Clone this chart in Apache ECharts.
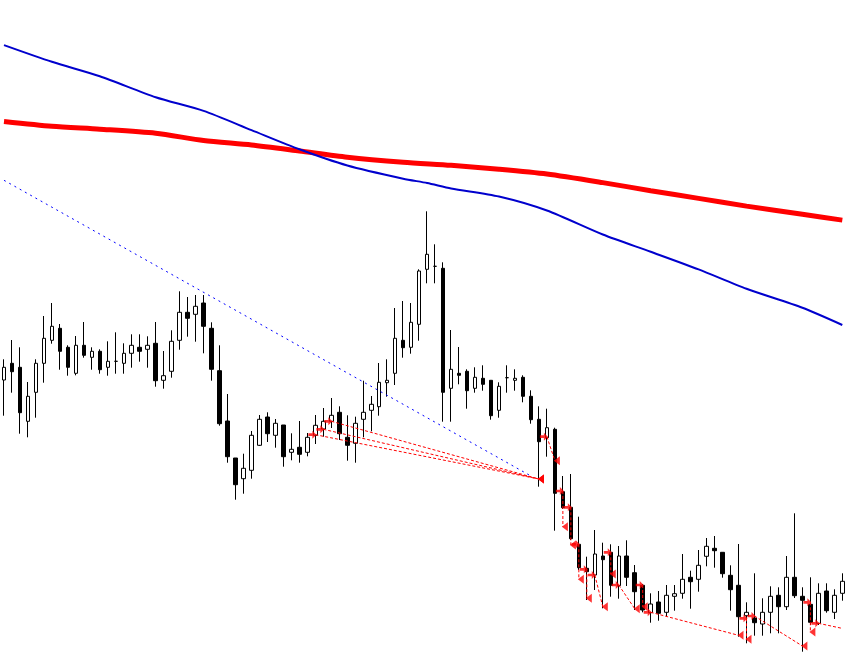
<!DOCTYPE html>
<html>
<head>
<meta charset="utf-8">
<script src="https://cdn.jsdelivr.net/npm/echarts@6/dist/echarts.min.js"></script>
<style>
html,body{margin:0;padding:0;background:#fff;}
#chart{width:847px;height:657px;}
</style>
</head>
<body>
<div id="chart"></div>
<script>
// Candle values (vertical units: height above chart bottom)
const open = [277.0,293.7,289.7,235.7,264.7,293.7,316.7,328.7,309.7,283.7,
311.7,299.7,305.7,289.7,295.7,293.7,303.7,309.7,307.7,313.7,
276.7,285.7,316.7,344.7,342.7,354.0,328.7,286.3,236.0,199.0,
178.3,186.7,211.7,240.0,221.7,232.0,204.7,209.7,204.7,221.7,
228.0,235.7,244.7,219.7,213.7,237.7,246.7,250.3,274.3,283.7,
316.7,309.7,332.7,387.7,390.7,388.7,268.7,283.7,285.7,268.7,
278.7,276.7,246.7,279.3,276.7,279.7,260.7,237.7,219.3,227.7,
165.3,149.7,112.7,88.7,82.0,101.0,104.7,71.3,101.0,84.3,
71.7,44.3,55.0,44.7,60.7,63.7,79.7,77.7,100.7,108.7,
104.7,81.7,71.7,41.3,39.0,33.0,44.7,61.7,50.3,79.7,
60.7,52.7,33.7,66.0,44.7,63.7];
const close = [289.7,285.3,244.3,260.7,293.7,318.7,330.7,305.7,289.7,311.7,
301.7,305.7,287.3,295.7,295.7,303.7,311.7,305.7,311.7,276.3,
281.3,315.7,344.7,338.7,350.7,330.7,287.7,233.3,200.3,172.3,
188.7,221.7,237.7,223.3,233.7,200.3,207.7,202.7,219.7,231.7,
235.7,241.7,223.3,211.7,233.7,244.7,252.7,274.7,276.7,318.7,
309.3,334.7,386.0,402.7,390.7,264.7,287.7,281.7,266.3,279.7,
272.7,241.3,270.7,279.3,278.7,260.7,237.3,215.3,229.3,163.7,
149.3,118.3,89.3,85.3,103.0,97.3,71.7,101.0,79.7,65.3,
47.0,53.0,43.7,61.7,63.3,77.7,75.3,91.7,110.7,106.3,
83.3,67.3,40.3,44.7,34.3,44.7,60.7,50.3,79.7,61.3,
56.7,34.7,63.7,46.3,61.7,75.7];
const low = [241.3,264.3,223.3,219.7,239.3,274.3,313.3,287.3,281.3,281.7,
299.3,287.3,283.3,281.3,283.3,283.3,289.3,295.3,289.3,270.3,
268.3,279.3,307.3,320.3,315.3,303.7,276.3,231.3,194.3,157.3,
163.3,178.3,211.0,215.0,209.3,190.3,196.7,194.3,200.7,213.0,
220.3,229.0,217.0,196.3,194.3,219.7,225.7,241.3,260.3,272.0,
299.3,303.3,316.3,373.7,373.7,235.3,235.3,272.7,248.3,264.3,
266.3,237.3,239.3,264.3,266.3,254.7,233.3,170.3,200.3,126.3,
148.0,117.0,87.0,57.0,67.0,48.7,60.3,58.3,71.0,47.0,
44.7,34.3,36.3,40.3,46.3,58.3,48.3,65.3,90.7,89.3,
79.3,46.3,20.3,13.7,21.3,21.3,23.7,23.7,47.0,59.0,
5.3,32.0,32.0,44.3,38.0,56.3];
const high = [297.7,317.0,309.7,275.0,297.7,341.0,354.0,333.0,311.7,321.0,
335.0,309.7,307.7,315.7,324.7,313.7,322.7,322.7,320.7,335.0,
306.0,326.7,365.7,360.0,362.0,362.0,334.7,311.7,263.0,199.0,
203.3,226.0,242.0,244.7,238.0,232.0,223.7,236.0,224.0,242.0,
249.0,259.0,250.7,241.7,240.3,276.3,261.0,294.0,297.7,349.0,
356.0,354.0,387.7,445.7,412.7,394.7,327.0,310.0,287.7,289.7,
291.7,276.7,274.7,291.7,287.7,281.7,266.7,250.7,248.3,229.3,
181.0,183.0,140.3,100.3,127.0,114.3,112.7,111.0,116.7,92.0,
73.0,63.7,66.0,72.0,72.0,103.0,86.3,107.0,119.0,121.0,
104.7,91.7,113.0,54.7,83.7,58.7,70.7,69.7,101.0,143.7,
69.7,79.7,73.7,73.7,67.7,83.7];

// Moving averages, read at selected bars: [bar index, value]
const redMA = [[0,535.5],[6,530.7],[12,527.8],[19,523.7],[25,516.5],[31,512.0],[37,506.0],[43,499.8],[50,494.8],[56,491.7],[62,487.8],[68,483.0],[75,474.4],[81,466.3],[87,458.6],[93,450.9],[100,442.7],[105,436.9]];
const blueMA = [[0,611.9],[6,595.2],[12,580.8],[19,559.8],[25,546.1],[31,526.9],[37,507.7],[43,491.5],[50,478.3],[53,474.0],[56,468.6],[62,460.5],[68,446.5],[75,422.5],[81,405.2],[87,387.6],[93,368.2],[100,349.2],[105,332.0]];
const trendLine = [[0,476.7],[66,181.0]];

// Trades: open bar/value -> close bar/value
const tradeOpenBar  = [39,40,41,68,70,71,72,73,74,76,77,80,81,93,94,101,102];
const tradeOpenVal  = [222.3,227.7,235.7,220.3,166.0,149.7,112.7,87.7,82.0,104.7,72.0,72.0,44.7,38.7,41.0,54.7,33.7];
const tradeCloseBar = [67,67,67,69,70,71,72,73,75,76,79,80,92,93,100,101,105];
const tradeCloseVal = [178.0,178.0,178.0,196.3,130.3,112.0,77.7,58.7,50.3,83.0,48.3,50.3,21.7,17.7,11.0,25.0,28.6];

const categories = open.map((_, i) => String(i));
const candleData = open.map((o, i) => [o, close[i], low[i], high[i]]);

const series = [
  {
    type: 'candlestick',
    data: candleData,
    barWidth: 4,
    z: 2,
    itemStyle: {
      color: '#ffffff', color0: '#000000',
      borderColor: '#000000', borderColor0: '#000000', borderColorDoji: '#000000',
      borderWidth: 1
    }
  },
  { type: 'line', data: redMA, symbol: 'none', z: 3, smooth: 0.25, lineStyle: { color: '#ff0000', width: 5 } },
  { type: 'line', data: blueMA, symbol: 'none', z: 3, smooth: 0.25, lineStyle: { color: '#0000cd', width: 2 } },
  { type: 'line', data: trendLine, symbol: 'none', z: 3, lineStyle: { color: '#0000ff', width: 1, type: [2, 4] } }
];
tradeOpenBar.forEach((b, i) => {
  series.push({
    type: 'line', symbol: 'none', z: 4,
    data: [[b, tradeOpenVal[i]], [tradeCloseBar[i], tradeCloseVal[i]]],
    lineStyle: { color: '#ff0000', width: 1, type: [3, 2] }
  });
});
series.push({
  type: 'scatter', z: 5,
  data: tradeOpenBar.map((b, i) => [b, tradeOpenVal[i]]),
  symbol: 'path://M0,3 L4,3 L4,0 L8,4.5 L4,9 L4,6 L0,6 Z',
  symbolSize: [8, 8], symbolOffset: [-3, 0],
  itemStyle: { color: '#ff0000' }
});
series.push({
  type: 'scatter', z: 5,
  data: tradeCloseBar.slice(0, tradeCloseBar.length - 1).map((b, i) => [b, tradeCloseVal[i]]),
  symbol: 'path://M8,0 L8,10 L0,5 Z',
  symbolSize: [6, 9], symbolOffset: [2, 0],
  itemStyle: { color: '#ff0000' }
});

const chart = echarts.init(document.getElementById('chart'), null, { renderer: 'canvas' });
chart.setOption({
  animation: false,
  backgroundColor: '#ffffff',
  grid: { left: -1.7, right: 0.7, top: 0, bottom: 0 },
  xAxis: { type: 'category', data: categories, show: false, boundaryGap: true },
  yAxis: { type: 'value', min: 0, max: 657, show: false },
  series: series
});
</script>
</body>
</html>
